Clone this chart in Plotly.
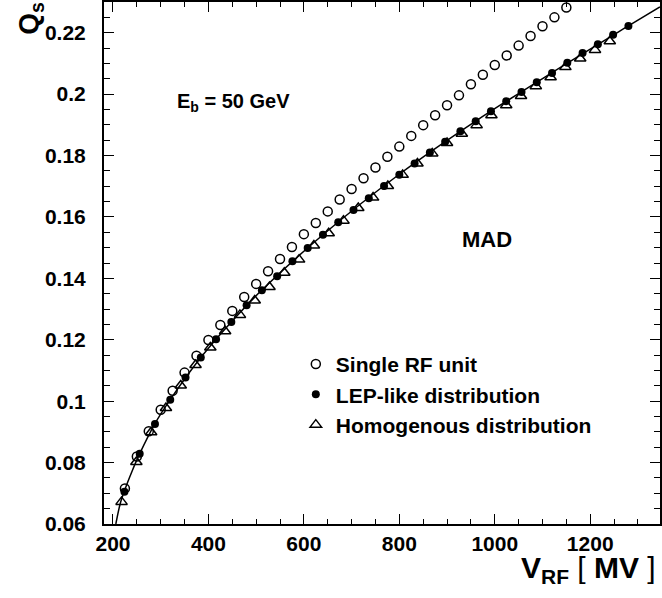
import plotly.graph_objects as go

# -----------------------------
# Data
# -----------------------------
single_v = [225, 250, 275, 300, 325, 350, 375, 400, 425, 450, 475, 500, 525,
            550, 575, 600, 625, 650, 675, 700, 725, 750, 775, 800, 825, 850,
            875, 900, 925, 950, 975, 1000, 1025, 1050, 1075, 1100, 1125, 1150]
single_q = [0.0716, 0.0820, 0.0902, 0.0972, 0.1034, 0.1093, 0.1148, 0.1199,
            0.1248, 0.1294, 0.1339, 0.1382, 0.1423, 0.1463, 0.1502, 0.1544,
            0.1580, 0.1618, 0.1657, 0.1691, 0.1726, 0.1761, 0.1796, 0.1829,
            0.1864, 0.1899, 0.1931, 0.1964, 0.1996, 0.2032, 0.2063, 0.2095,
            0.2126, 0.2158, 0.2189, 0.2221, 0.2250, 0.2282]

lep_v = [224, 256, 288, 320, 352, 384, 416, 448, 480, 512, 544, 576, 608, 640,
         672, 704, 736, 768, 800, 832, 864, 896, 928, 960, 992, 1024, 1056,
         1088, 1120, 1152, 1184, 1216, 1248, 1280]
lep_q = [0.0705, 0.0829, 0.0926, 0.1005, 0.1077, 0.1142, 0.1202, 0.1258,
         0.1312, 0.1361, 0.1407, 0.1456, 0.1499, 0.1542, 0.1583, 0.1623,
         0.1661, 0.1701, 0.1737, 0.1774, 0.1810, 0.1845, 0.1879, 0.1912,
         0.1944, 0.1977, 0.2007, 0.2039, 0.2069, 0.2102, 0.2134, 0.2162,
         0.2193, 0.2222]

homog_v = [218, 249, 280, 311, 342, 373, 404, 435, 466, 497, 528, 559, 590,
           621, 652, 683, 714, 745, 776, 807, 838, 869, 900, 931, 962, 993,
           1024, 1055, 1086, 1117, 1148, 1179, 1210, 1241]
homog_q = [0.0672, 0.0802, 0.0899, 0.0978, 0.1051, 0.1118, 0.1175, 0.1228,
           0.1281, 0.1328, 0.1372, 0.1418, 0.1461, 0.1507, 0.1547, 0.1588,
           0.1629, 0.1663, 0.1701, 0.1737, 0.1774, 0.1807, 0.1841, 0.1871,
           0.1899, 0.1931, 0.1964, 0.1994, 0.2026, 0.2055, 0.2088, 0.2116,
           0.2144, 0.2172]

# MAD curve
curve_v = [206, 215, 224, 240, 256, 288, 320, 384, 448, 512, 640, 800, 960,
           1120, 1280, 1346]
curve_q = [0.0600, 0.0665, 0.0708, 0.0772, 0.0829, 0.0927, 0.1005, 0.1142,
           0.1258, 0.1362, 0.1542, 0.1739, 0.1912, 0.2070, 0.2222, 0.2284]

x_ticks = [200, 400, 600, 800, 1000, 1200]
y_ticks = [0.06, 0.08, 0.10, 0.12, 0.14, 0.16, 0.18, 0.20, 0.22]
y_labels = ["0.06", "0.08", "0.1", "0.12", "0.14", "0.16", "0.18", "0.2", "0.22"]

FONT = "Liberation Sans, Arial, Helvetica, sans-serif"

fig = go.Figure()

fig.add_scatter(x=curve_v, y=curve_q, mode="lines", line_shape="spline",
                line=dict(color="black", width=1.5), showlegend=False,
                hoverinfo="skip")
fig.add_scatter(x=single_v, y=single_q, mode="markers", name="Single RF unit",
                marker=dict(symbol="circle-open", size=9, color="black",
                            line=dict(width=1.5)))
fig.add_scatter(x=lep_v, y=lep_q, mode="markers", name="LEP-like distribution",
                marker=dict(symbol="circle", size=8, color="black"))
fig.add_scatter(x=homog_v, y=homog_q, mode="markers",
                name="Homogenous distribution",
                marker=dict(symbol="triangle-up-open", size=10, color="black",
                            line=dict(width=1.5)))

axis_common = dict(
    showgrid=False, zeroline=False, showline=True, linecolor="black",
    linewidth=2, mirror="allticks", ticks="inside", ticklen=10, tickwidth=1,
    tickcolor="black",
    tickfont=dict(family=FONT, size=21, color="black", weight="bold"),
)

fig.update_xaxes(range=[181.2, 1346.2], tickvals=x_ticks,
                 ticktext=[str(v) for v in x_ticks],
                 minor=dict(dtick=50, tick0=0, ticks="inside", ticklen=5,
                            tickcolor="black", tickwidth=1),
                 ticklabelstandoff=0, **axis_common)
fig.update_yaxes(range=[0.06, 0.23], tickvals=y_ticks, ticktext=y_labels,
                 minor=dict(dtick=0.005, tick0=0, ticks="inside", ticklen=6,
                            tickcolor="black", tickwidth=1),
                 ticklabelstandoff=12, **axis_common)

fig.add_annotation(text="Q<sub>s</sub>", xref="paper", yref="paper",
                   x=-0.1326, y=0.9685, xanchor="center", yanchor="middle",
                   textangle=-90, showarrow=False,
                   font=dict(family=FONT, size=28, color="black", weight="bold"))
fig.add_annotation(text="<b>V<sub>RF</sub></b> [ <b>MV</b> ]", xref="paper",
                   yref="paper", x=0.9964, y=-0.126, xanchor="right",
                   yanchor="bottom", showarrow=False,
                   font=dict(family=FONT, size=30, color="black"))
fig.add_annotation(text="E<sub>b</sub> = 50 GeV", xref="paper", yref="paper",
                   x=0.1272, y=0.807, xanchor="left", yanchor="middle",
                   showarrow=False,
                   font=dict(family=FONT, size=20, color="black", weight="bold"))
fig.add_annotation(text="MAD", xref="paper", yref="paper",
                   x=0.6882, y=0.545, xanchor="center", yanchor="middle",
                   showarrow=False,
                   font=dict(family=FONT, size=22, color="black", weight="bold"))

fig.update_layout(
    width=662, height=598,
    margin=dict(l=104, r=0, t=0, b=74),
    paper_bgcolor="white", plot_bgcolor="white",
    font=dict(family=FONT, color="black"),
    legend=dict(x=0.345, y=0.345, xanchor="left", yanchor="top",
                bgcolor="rgba(0,0,0,0)", borderwidth=0,
                font=dict(family=FONT, size=21, color="black", weight="bold")),
)

fig.write_html("out.html", config={"displayModeBar": False},
               post_script="document.body.style.margin='0';")
